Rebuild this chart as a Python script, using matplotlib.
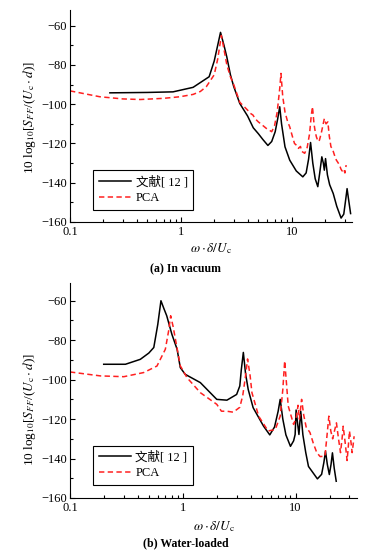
import matplotlib
matplotlib.use("Agg")
import matplotlib.pyplot as plt
from matplotlib.ticker import LogLocator, MultipleLocator, FixedFormatter, FixedLocator

plt.rcParams['font.family'] = ['Liberation Serif', 'Noto Sans CJK SC']
plt.rcParams['mathtext.fontset'] = 'stix'
plt.rcParams['axes.unicode_minus'] = True

# ---- (a) In vacuum ----
A_REF_X = [0.229, 0.5, 0.85, 1.29, 1.8, 2.0, 2.15, 2.28, 2.45, 2.6, 2.8, 3.0, 3.4,
           4.0, 4.5, 5.0, 5.5, 6.1, 6.6, 7.1, 7.5, 7.8, 8.1, 8.7, 9.6, 11.0, 12.6,
           13.5, 14.2, 14.8, 15.5, 16.3, 17.2, 17.9, 18.7, 19.3, 19.7, 20.2, 21.0,
           22.0, 23.7, 25.5, 27.9, 29.5, 30.8, 31.6, 32.5, 34.0]
A_REF_Y = [-94.2, -94.0, -93.7, -91.4, -86, -78, -70, -63.4, -70, -76, -85, -91, -99.6,
           -106, -112, -115, -118, -121, -119, -114, -107, -101.3, -110, -121.7, -128.5,
           -134, -137, -135, -128, -119.5, -130, -138, -142, -135, -126.8, -130, -133.6,
           -127.7, -136, -141, -145.5, -152, -158, -156, -148, -143, -148, -155.7]

A_PCA_X = [0.1, 0.186, 0.3, 0.43, 0.7, 0.98, 1.29, 1.5, 1.7, 2.0, 2.15, 2.32, 2.45,
           2.6, 2.8, 3.0, 3.4, 4.0, 4.2, 4.47, 4.7, 5.0, 5.4, 5.9, 6.2, 6.6, 7.0, 7.4,
           7.8, 8.0, 8.3, 8.7, 9.2, 9.6, 10.1, 10.6, 11.1, 11.5, 12.0, 12.3, 13.1,
           13.8, 14.5, 15.0, 15.4, 15.9, 16.3, 16.7, 17.3, 17.8, 18.6, 19.7, 20.4,
           21.2, 21.8, 22.6, 23.2, 23.7, 24.5, 25.3, 26.0, 27.0, 27.8, 28.5, 29.5,
           30.2, 31.0]
A_PCA_Y = [-93.2, -96.2, -97.3, -97.6, -97, -96.2, -95, -93.5, -91, -85, -77, -65, -72,
           -80, -86, -90, -99, -103, -104.5, -105.5, -107.5, -109, -110.5, -112.3,
           -113, -114, -111, -104, -92, -84.3, -96, -104, -109, -111.5, -116, -120,
           -121, -122.5, -121.5, -124, -125, -122, -115, -106, -101.3, -110, -114,
           -116.6, -119, -118.3, -114, -107.3, -110, -109, -116, -121.7, -122.5,
           -124, -126.5, -128.5, -129.5, -131, -133, -134, -133, -135, -131]

# ---- (b) Water-loaded ----
B_REF_X = [0.199, 0.31, 0.42, 0.50, 0.553, 0.60, 0.64, 0.68, 0.72, 0.80, 0.89, 0.95,
           1.05, 1.43, 2.0, 2.46, 3.0, 3.2, 3.3, 3.44, 3.6, 3.8, 4.2, 5.2, 5.9, 6.5,
           7.0, 7.3, 7.7, 8.2, 9.0, 9.6, 9.9, 10.1, 10.4, 10.7, 11.1, 11.6, 12.3,
           13.0, 15.6, 17.0, 17.8, 18.4, 19.1, 19.9, 20.6, 21.2, 22.0, 22.9]
B_REF_Y = [-92.2, -92.2, -89.7, -86.5, -83.7, -72, -60, -64, -67.6, -77, -84.6, -93.9,
           -97.3, -101.5, -110, -110.4, -107.5, -103.2, -95, -86.2, -97, -105, -114.2,
           -123.6, -128, -124, -116, -110, -120, -128, -133.8, -131, -127.8, -115.4,
           -122, -127.8, -116, -128, -137, -144, -150.3, -148, -142, -136.3, -143,
           -148.1, -143, -137.1, -145, -151.5]

B_PCA_X = [0.1, 0.186, 0.3, 0.45, 0.59, 0.70, 0.75, 0.78, 0.82, 0.86, 0.95, 1.09, 1.43,
           2.0, 2.2, 2.46, 2.8, 3.2, 3.4, 3.6, 3.75, 3.95, 4.1, 4.7, 5.7, 6.6, 7.3,
           7.7, 8.0, 8.3, 8.6, 9.6, 10.2, 10.5, 10.8, 11.3, 11.8, 12.4, 13.4, 14.3,
           15.4, 16.5, 18.2, 19.0, 19.7, 20.5, 21.3, 22.1, 23.0, 24.0, 25.0, 25.8,
           26.4, 27.5, 28.6, 29.3, 30.0, 31.0, 31.7, 32.5, 33.0]
B_PCA_Y = [-96.1, -98.1, -98.5, -96.4, -93.1, -84.6, -75, -67.6, -73, -79.5, -93, -99,
           -106.6, -112.5, -116, -116, -116.5, -114, -108, -98, -89.5, -98, -106.6,
           -118.5, -126, -125.3, -118.5, -105, -90.5, -102, -113.4, -122.7, -118.5,
           -113, -120, -110, -118, -124, -126.8, -132, -137, -139, -138.8, -128,
           -118.5, -126, -130, -126, -121.9, -130, -137, -130, -123.6, -132, -141,
           -134, -126, -132, -137, -132, -128.7]

PANELS = [
    (A_REF_X, A_REF_Y, A_PCA_X, A_PCA_Y, "(a) In vacuum"),
    (B_REF_X, B_REF_Y, B_PCA_X, B_PCA_Y, "(b) Water-loaded"),
]
LABELS = ["文献[ 12 ]", "PCA"]
XTICKS = [0.1, 1, 10]
XTICKLABELS = ["0.1", "1", "10"]

W, H = 371, 555
fig = plt.figure(figsize=(W / 100, H / 100), dpi=100)

# pixel boxes (left, top, right, bottom)
boxes = [(70, 10, 352, 222), (70, 283, 357, 498)]
ylims = [(-160, -52), (-160, -51)]
xlab_y = [249, 527]
cap_y = [269, 543]
ylab_y = [118, 410]
leg_xy = [(0.082, 0.058), (0.08, 0.06)]

for i, (rx, ry, px, py, cap) in enumerate(PANELS):
    l, t, r, b = boxes[i]
    ax = fig.add_axes([l / W, 1 - b / H, (r - l) / W, (b - t) / H])
    ax.plot(rx, ry, color="black", lw=1.1, label=LABELS[0])
    ax.plot(px, py, color="#ff2020", lw=1.1, dashes=(3.5, 2.2), label=LABELS[1])
    ax.set_xscale("log")
    ax.set_xlim(0.1, 35)
    ax.set_ylim(*ylims[i])
    ax.xaxis.set_major_locator(FixedLocator(XTICKS))
    ax.xaxis.set_major_formatter(FixedFormatter(XTICKLABELS))
    ax.xaxis.set_minor_locator(LogLocator(base=10, subs=range(2, 10)))
    ax.xaxis.set_minor_formatter(plt.NullFormatter())
    ax.yaxis.set_major_locator(MultipleLocator(20))
    ax.yaxis.set_minor_locator(MultipleLocator(10))
    ax.tick_params(which="both", direction="in", labelsize=9, width=0.8)
    ax.tick_params(which="major", length=3.5)
    ax.tick_params(which="minor", length=2.5)
    ax.tick_params(axis="x", pad=3)
    ax.tick_params(axis="y", pad=2)
    for s in ("top", "right"):
        ax.spines[s].set_visible(False)
    for s in ("left", "bottom"):
        ax.spines[s].set_linewidth(0.8)
    ax.set_yticks([-160, -140, -120, -100, -80, -60])
    leg = ax.legend(loc="lower left", bbox_to_anchor=leg_xy[i], fontsize=9,
                    fancybox=False, edgecolor="black", framealpha=1,
                    handlelength=2.6, borderpad=0.45, labelspacing=0.3,
                    handletextpad=0.35, borderaxespad=0)
    leg.get_frame().set_linewidth(0.8)

    fig.text((l + r) / 2 / W, 1 - xlab_y[i] / H, r"$\omega\cdot\delta/U_{\rm c}$",
             ha="center", va="center", fontsize=9.5)
    fig.text(0.5, 1 - cap_y[i] / H, cap, ha="center", va="center", fontsize=8.5,
             fontweight="bold")
    fig.text(30 / W, 1 - ylab_y[i] / H,
             r"10 log$_{10}$[$S_{FF}$/($U_{\rm c}\cdot d$)]",
             rotation=90, ha="center", va="center", fontsize=9.5)

fig.savefig("out.png", dpi=100)
